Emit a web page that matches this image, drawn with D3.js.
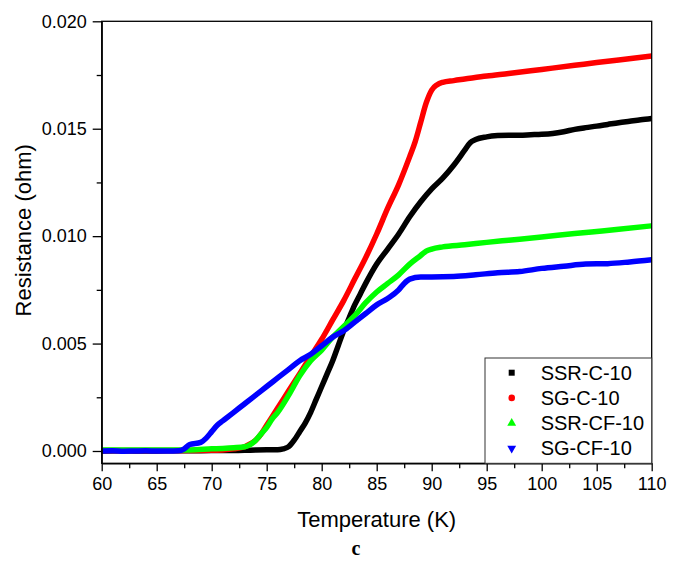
<!DOCTYPE html>
<meta charset="utf-8">

<!-- Load d3.js -->
<script src="https://d3js.org/d3.v7.min.js"></script>

<style>
  body {margin: 0; background: white;}
  .tick text {font-family: Arial, "Liberation Sans", sans-serif;}
</style>

<div id="my_dataviz"></div>

<script>

// data: [temperature (K), resistance (ohm)]
var ssrC10 = [[60,0.00000],[62,0.00001],[64,0.00000],[66,0.00001],[68,0.00001],[70,0.00002],[72,0.00002],[73,0.00003],[74,0.00005],[75,0.00006],[76,0.00006],[76.5,0.0001],[77,0.0002],[77.5,0.0005],[78,0.0009],[78.5,0.0013],[79,0.0018],[79.5,0.0024],[80,0.0030],[80.5,0.0036],[81,0.0042],[81.5,0.0049],[82,0.0056],[82.5,0.0062],[83,0.0068],[83.5,0.0073],[84,0.0078],[85,0.0087],[86,0.0094],[87,0.0101],[88,0.0109],[89,0.0116],[90,0.0122],[91,0.0127],[92,0.0133],[93,0.0140],[93.5,0.01435],[94,0.0145],[95,0.01462],[96,0.01468],[97,0.0147],[98,0.0147],[99,0.01472],[100,0.01474],[101,0.01478],[102,0.01486],[103,0.01497],[104,0.01505],[105,0.01512],[106,0.0152],[107,0.01528],[108,0.01535],[109,0.01542],[110,0.01548]];

var sgC10 = [[60,0.00002],[65,0.00002],[70,0.00003],[71,0.00005],[72,0.0001],[73,0.0002],[73.5,0.00033],[74,0.0005],[74.5,0.0008],[75,0.0012],[75.5,0.0016],[76,0.0020],[77,0.0028],[78,0.0036],[79,0.0044],[80,0.0052],[81,0.0061],[82,0.0070],[83,0.0080],[84,0.0090],[85,0.0101],[86,0.0113],[87,0.0124],[88,0.0137],[88.5,0.0144],[89,0.0153],[89.5,0.0162],[90,0.0168],[90.5,0.01705],[91,0.01716],[92,0.01724],[93,0.01731],[95,0.01745],[97,0.01757],[100,0.01776],[103,0.01795],[105,0.01808],[107,0.0182],[110,0.01838]];

var ssrCF10 = [[60,0.00005],[65,0.00005],[68,0.00005],[70,0.0001],[71,0.00012],[72,0.00015],[73,0.0002],[73.5,0.0003],[74,0.0005],[74.5,0.0008],[75,0.0011],[75.5,0.0015],[76,0.0018],[77,0.0026],[78,0.0035],[79,0.0042],[80,0.0047],[81,0.0053],[82,0.0058],[83,0.0063],[84,0.0069],[85,0.0074],[86,0.0078],[87,0.0082],[88,0.0087],[89,0.0091],[89.5,0.0093],[90,0.0094],[91,0.0095],[93,0.0096],[95,0.00971],[97,0.00981],[100,0.00996],[103,0.01012],[105,0.01022],[107,0.01032],[110,0.01048]];

var sgCF10 = [[60,0.00000],[61,0.00001],[62,-0.00001],[63,0.00000],[64,0.00001],[65,0.00000],[66,0.00000],[67,0.00001],[67.5,0.0001],[68,0.0003],[69,0.0004],[69.5,0.0006],[70,0.0009],[70.5,0.0012],[71,0.0014],[72,0.0018],[73,0.0022],[74,0.0026],[75,0.0030],[76,0.0034],[77,0.0038],[78,0.0042],[79,0.0045],[80,0.0049],[81,0.0053],[82,0.0056],[83,0.0060],[84,0.0064],[85,0.0068],[86,0.0071],[87,0.0075],[87.5,0.0078],[88,0.0080],[89,0.0081],[90,0.0081],[92,0.00812],[94,0.0082],[96,0.0083],[98,0.00835],[100,0.0085],[102,0.0086],[104,0.0087],[106,0.00872],[108,0.0088],[110,0.0089]];

var seriesNames = ["SSR-C-10", "SG-C-10", "SSR-CF-10", "SG-CF-10"];
var seriesColors = ["#000000", "#ff0000", "#00ff00", "#0000ff"];
var seriesData = [ssrC10, sgC10, ssrCF10, sgCF10];

var xTicks = [60, 65, 70, 75, 80, 85, 90, 95, 100, 105, 110];
var yTicks = [0.000, 0.005, 0.010, 0.015, 0.020];

// set the dimensions and margins of the graph
var margin = {top: 21.3, right: 28.3, bottom: 97.7, left: 101.7},
    width = 680 - margin.left - margin.right,
    height = 561 - margin.top - margin.bottom;

var svg = d3.select("#my_dataviz")
  .append("svg")
    .attr("width", 680)
    .attr("height", 561)
  .append("g")
    .attr("transform", "translate(" + margin.left + "," + margin.top + ")");

var x = d3.scaleLinear()
  .domain([60, 110])
  .range([0, width]);

var y = d3.scaleLinear()
  .domain([-0.000573, 0.020])
  .range([height, 0]);

// clip the curves to the plot box
svg.append("clipPath")
    .attr("id", "clip")
  .append("rect")
    .attr("width", width)
    .attr("height", height);

// curves (dense markers in the original look like thick lines)
var line = d3.line()
  .x(function(d) { return x(d[0]); })
  .y(function(d) { return y(d[1]); })
  .curve(d3.curveMonotoneX);

svg.append("g")
    .attr("clip-path", "url(#clip)")
  .selectAll("path")
  .data(seriesData)
  .enter()
  .append("path")
    .attr("d", line)
    .attr("fill", "none")
    .attr("stroke", function(d, i) { return seriesColors[i]; })
    .attr("stroke-width", 5.5)
    .attr("stroke-linejoin", "round")
    .attr("stroke-linecap", "round");

// frame
svg.append("rect")
    .attr("width", width)
    .attr("height", height)
    .attr("fill", "none")
    .attr("stroke", "#000")
    .attr("stroke-width", 1.3);

// minor ticks
var xMinor = xTicks.slice(0, -1).map(function(t) { return t + 2.5; });
var yMinor = yTicks.slice(0, -1).map(function(t) { return t + 0.0025; });

svg.append("g")
  .attr("transform", "translate(0," + height + ")")
  .call(d3.axisBottom(x).tickValues(xMinor).tickSize(5).tickFormat(""))
  .call(function(g) { g.select(".domain").remove(); })
  .selectAll("line").attr("stroke-width", 1.3);

svg.append("g")
  .call(d3.axisLeft(y).tickValues(yMinor).tickSize(5).tickFormat(""))
  .call(function(g) { g.select(".domain").remove(); })
  .selectAll("line").attr("stroke-width", 1.3);

// X axis
var xAxis = svg.append("g")
  .attr("transform", "translate(0," + height + ")")
  .call(d3.axisBottom(x).tickValues(xTicks).tickSize(8).tickSizeOuter(0).tickPadding(6).tickFormat(d3.format("d")));
xAxis.selectAll("text").style("font-size", "18px").attr("fill", "#000");
xAxis.selectAll("line").attr("stroke-width", 1.3);
xAxis.select(".domain").attr("stroke-width", 1.3);

// Y axis
var yAxis = svg.append("g")
  .call(d3.axisLeft(y).tickValues(yTicks).tickSize(9).tickSizeOuter(0).tickPadding(6).tickFormat(d3.format(".3f")));
yAxis.selectAll("text").style("font-size", "18px").attr("fill", "#000");
yAxis.selectAll("line").attr("stroke-width", 1.3);
yAxis.select(".domain").attr("stroke-width", 1.3);

// axis titles
svg.append("text")
    .attr("x", width / 2)
    .attr("y", height + 64)
    .attr("text-anchor", "middle")
    .style("font-family", "Arial, 'Liberation Sans', sans-serif")
    .style("font-size", "22px")
    .text("Temperature (K)");

svg.append("text")
    .attr("transform", "rotate(-90)")
    .attr("x", -height / 2 + 12)
    .attr("y", -margin.left + 31)
    .attr("text-anchor", "middle")
    .style("font-family", "Arial, 'Liberation Sans', sans-serif")
    .style("font-size", "22px")
    .text("Resistance (ohm)");

// panel letter
svg.append("text")
    .attr("x", 356 - margin.left)
    .attr("y", 555 - margin.top)
    .attr("text-anchor", "middle")
    .style("font-family", "'Times New Roman', 'Liberation Serif', serif")
    .style("font-weight", "bold")
    .style("font-size", "20px")
    .text("c");

// legend
var legend = svg.append("g")
  .attr("transform", "translate(" + (485 - margin.left) + "," + (358 - margin.top) + ")");

legend.append("rect")
    .attr("width", width - (485 - margin.left))
    .attr("height", height - (358 - margin.top))
    .attr("fill", "white")
    .attr("stroke", "#333")
    .attr("stroke-width", 1);

var symbols = [d3.symbolSquare, d3.symbolCircle, d3.symbolTriangle, d3.symbolTriangle];

var rows = legend.selectAll("g.row")
  .data(seriesNames)
  .enter()
  .append("g")
    .attr("class", "row")
    .attr("transform", function(d, i) { return "translate(0," + (14.7 + i * 25.2) + ")"; });

rows.append("path")
    .attr("d", function(d, i) { return d3.symbol().type(symbols[i]).size(i == 0 ? 36 : 34)(); })
    .attr("transform", function(d, i) { return "translate(26.7,0)" + (i == 3 ? " rotate(180)" : ""); })
    .attr("fill", function(d, i) { return seriesColors[i]; });

rows.append("text")
    .attr("x", 55.7)
    .attr("dy", "0.35em")
    .style("font-family", "Arial, 'Liberation Sans', sans-serif")
    .style("font-size", "20px")
    .text(function(d) { return d; });

</script>
